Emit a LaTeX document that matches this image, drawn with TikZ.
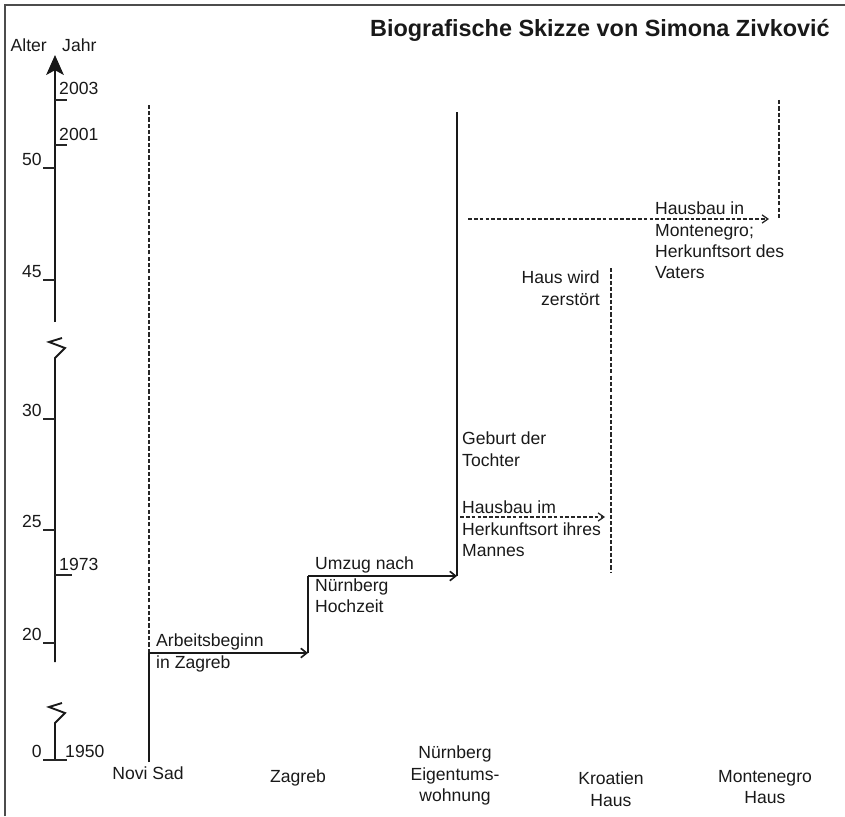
\documentclass[tikz,border=0pt]{standalone}
\usepackage{fontspec}
\setmainfont{Liberation Sans}
\usetikzlibrary{arrows.meta}

\begin{document}
\begin{tikzpicture}[
    x=0.03cm, y=-0.03cm,
    every node/.style={font=\fontsize{15}{18}\selectfont, text=black!90, inner sep=0pt},
    note/.style={anchor=north west, align=left},
    town/.style={anchor=north, align=center},
    scaletick/.style={line width=0.9pt, black!85},
    axisline/.style={line width=1.6pt, black!90},
    life/.style={line width=1.6pt, black!90},
    plan/.style={line width=1.6pt, black!85, dash pattern=on 3.6pt off 1.8pt},
    stepmove/.style={line width=1.4pt, black!90, -{Straight Barb[length=5pt,width=8pt]}},
    wish/.style={line width=1.1pt, black!85, dash pattern=on 3.2pt off 1.8pt, -{Straight Barb[length=5pt,width=7pt]}}
]
    \useasboundingbox (0,0) rectangle (845,816);
    % Frame (top and left only)
    \draw[line width=1.3pt, black!70] (5,816) -- (5,5) -- (845,5);

    % Title
    \node[anchor=north east, font=\fontsize{20}{24}\selectfont\bfseries] (title) at (830,19) {Biografische Skizze von Simona Zivković};

    % Axis with breaks
    \coordinate (ax0) at (55,760);
    \coordinate (ax1) at (55,723);
    \coordinate (ax2) at (55,662);
    \coordinate (ax3) at (55,358);
    \coordinate (ax4) at (55,322);
    \coordinate (axtip) at (55,55);
    \draw[axisline] (ax0) -- (ax1) -- (65,713) -- (49,707) -- (62,703);
    \draw[axisline] (ax2) -- (ax3) -- (65,348) -- (49,342) -- (62,338);
    \draw[axisline, -{Stealth[length=17pt, width=15pt, inset=4pt]}] (ax4) -- (axtip);
    \node[anchor=base east] (alter) at (47,52) {Alter};
    \node[anchor=base west] (jahr) at (62,52) {Jahr};

    % Age ticks
    \foreach \age/\y in {20/643, 25/530, 30/419, 45/280, 50/168} {
        \draw[scaletick] (43,\y) -- (55,\y);
        \node[anchor=base east] (age\age) at (42,{\y-3}) {\age};
    }
    % Year ticks
    \foreach \yr/\y/\len in {1973/575/72, 2001/145/67, 2003/100/67} {
        \draw[scaletick] (55,\y) -- (\len,\y);
        \node[anchor=base west] (year\yr) at (59,{\y-5}) {\yr};
    }
    \draw[scaletick] (43,760) -- (67,760);
    \node[anchor=base east] (age0) at (42,757) {0};
    \node[anchor=base west] (year1950) at (65,757) {1950};

    % Life path
    \coordinate (ns top) at (149,105);
    \coordinate (ns turn) at (149,653);
    \coordinate (ns foot) at (149,762);
    \coordinate (zg turn) at (308,653);
    \coordinate (zg up) at (308,576);
    \coordinate (nb turn) at (457,576);
    \coordinate (nb top) at (457,112);
    \draw[plan] (ns turn) -- (ns top);
    \draw[life] (ns foot) -- (ns turn);
    \draw[stepmove] (ns turn) -- (zg turn);
    \draw[life] (zg turn) -- (zg up);
    \draw[stepmove] (zg up) -- (nb turn);
    \draw[life] (nb turn) -- (nb top);

    % Houses
    \coordinate (kr top) at (611,268);
    \coordinate (kr foot) at (611,572);
    \coordinate (mn top) at (779,100);
    \coordinate (mn foot) at (779,220);
    \coordinate (kr from) at (460,517);
    \coordinate (kr to) at (605,517);
    \coordinate (mn from) at (468,219);
    \coordinate (mn to) at (769,219);
    \draw[plan] (kr top) -- (kr foot);
    \draw[plan] (mn top) -- (mn foot);
    \draw[wish] (kr from) -- (kr to);
    \draw[wish] (mn from) -- (mn to);

    % Events
    \node[note] (work) at (156,634) {Arbeitsbeginn\\in Zagreb};
    \node[note] (move) at (315,557) {Umzug nach\\Nürnberg\\Hochzeit};
    \node[note] (birth) at (462,432) {Geburt der\\Tochter};
    \node[note] (krhouse) at (462,501) {Hausbau im\\Herkunftsort ihres\\Mannes};
    \node[anchor=north east, align=right] (ruin) at (600,271) {Haus wird\\zerstört};
    \node[note] (mnhouse) at (655,202) {Hausbau in\\Montenegro;\\Herkunftsort des\\Vaters};

    % Places
    \node[town] (novisad) at (148,767) {Novi Sad};
    \node[town] (zagreb) at (298,770) {Zagreb};
    \node[town] (nuernberg) at (455,746) {Nürnberg\\Eigentums-\\wohnung};
    \node[town] (kroatien) at (611,772) {Kroatien\\Haus};
    \node[town] (montenegro) at (765,770) {Montenegro\\Haus};
\end{tikzpicture}
\end{document}
